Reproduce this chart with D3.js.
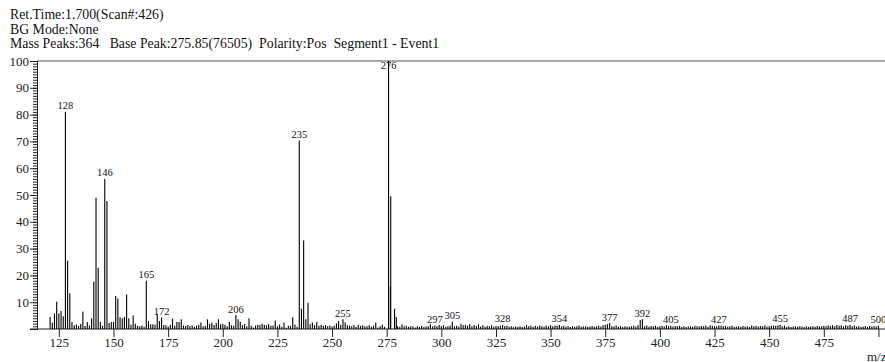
<!DOCTYPE html>
<html>
<head>
<meta charset="utf-8">
<script src="https://cdn.jsdelivr.net/npm/d3@7"></script>
<style>
  html, body { margin: 0; padding: 0; background: #fff; }
  svg { display: block; font-family: "Liberation Serif", "Times New Roman", serif; }
</style>
</head>
<body>
<div id="chart"></div>
<script>
// header text of the instrument printout
const headerLines = [
  "Ret.Time:1.700(Scan#:426)",
  "BG Mode:None",
  "Mass Peaks:364   Base Peak:275.85(76505)  Polarity:Pos  Segment1 - Event1",
];

// [m/z, relative intensity %]
const peaks = [
  [121, 4.5], [122, 2.3], [123, 5.8], [124, 10.2], [125, 5.8], [126, 6.7], [127, 4.8],
  [128, 81], [129, 25.5], [130, 13.3], [131, 2.6], [132, 1.4], [133, 1.7], [134, 1.2],
  [135, 1.9], [136, 6.5], [137, 1.1], [138, 2.6], [139, 1.3], [140, 4.0], [141, 17.6],
  [142, 49], [143, 22.9], [144, 2.6], [145, 1.2], [146, 56], [147, 47.8], [148, 2.2],
  [149, 2.6], [150, 2.6], [151, 12.3], [152, 11.4], [153, 4.4], [154, 4.0], [155, 4.6],
  [156, 12.9], [157, 4.0], [158, 1.6], [159, 5.0], [160, 2.0], [161, 1.2], [162, 1.0],
  [163, 1.3], [164, 0.8], [165, 18], [166, 3.0], [167, 1.8], [168, 1.8], [169, 1.6],
  [170, 5.6], [171, 3.0], [172, 4.3], [173, 1.5], [174, 1.4], [175, 0.9], [176, 1.6],
  [177, 3.9], [178, 1.2], [179, 2.6], [180, 2.6], [181, 3.6], [182, 1.3], [183, 1.1],
  [184, 1.5], [185, 1.0], [186, 1.3], [187, 0.8], [188, 1.2], [189, 1.6], [190, 2.4],
  [191, 1.0], [192, 1.2], [193, 3.6], [194, 2.0], [195, 2.4], [196, 1.5], [197, 2.2],
  [198, 3.6], [199, 1.8], [200, 2.0], [201, 1.6], [202, 1.0], [203, 2.6], [204, 1.4],
  [205, 1.2], [206, 5.2], [207, 3.6], [208, 2.7], [209, 1.4], [210, 1.9], [211, 1.0],
  [212, 4.0], [213, 1.2], [214, 0.6], [215, 1.3], [216, 1.6], [217, 1.5], [218, 2.0],
  [219, 1.6], [220, 1.4], [221, 1.9], [222, 1.2], [223, 1.3], [224, 3.2], [225, 1.0],
  [226, 1.7], [227, 0.8], [228, 2.4], [229, 0.5], [230, 1.2], [231, 1.2], [232, 4.4],
  [233, 1.7], [234, 0.8], [235, 70.3], [236, 7.6], [237, 33], [238, 3.6], [239, 9.8],
  [240, 1.8], [241, 2.4], [242, 1.4], [243, 2.7], [244, 1.2], [245, 1.6], [246, 1.1],
  [247, 1.5], [248, 1.0], [249, 1.3], [250, 0.9], [251, 1.2], [252, 2.1], [253, 3.0],
  [254, 1.6], [255, 3.6], [256, 2.4], [257, 1.4], [258, 1.2], [259, 1.0], [260, 1.5],
  [261, 0.8], [262, 1.6], [263, 1.2], [264, 1.4], [265, 0.9], [266, 1.0], [267, 1.4],
  [268, 0.8], [269, 1.2], [270, 2.4], [271, 0.6], [272, 1.0], [273, 1.6], [274, 0.8],
  [275.85, 100], [276.7, 16], [276.85, 49.5], [278.6, 7.6], [279.4, 4.5], [280, 1.0],
  [281, 0.8], [282, 1.8], [283, 1.0], [284, 1.2], [285, 0.8], [286, 1.0], [287, 0.9],
  [288, 0.6], [289, 1.0], [290, 0.8], [291, 1.2], [292, 0.7], [293, 0.9], [294, 1.0],
  [295, 1.8], [296, 0.9], [297, 1.3], [298, 1.0], [299, 1.6], [300, 1.1], [301, 1.4],
  [302, 0.8], [303, 1.0], [304, 1.3], [305, 2.8], [306, 1.0], [307, 1.2], [308, 0.9],
  [309, 2.0], [310, 1.4], [311, 1.6], [312, 1.2], [313, 1.8], [314, 1.0], [315, 1.5],
  [316, 1.1], [317, 1.8], [318, 0.9], [319, 1.4], [320, 0.8], [321, 1.2], [322, 1.0],
  [323, 1.4], [324, 0.8], [325, 1.1], [326, 1.0], [327, 1.2], [328, 1.5], [329, 1.0],
  [330, 1.2], [331, 0.8], [332, 1.0], [333, 0.7], [334, 0.9], [335, 0.8], [336, 1.0],
  [337, 0.7], [338, 0.9], [339, 1.5], [340, 1.0], [341, 1.3], [342, 0.8], [343, 1.2],
  [344, 0.9], [345, 1.3], [346, 1.0], [347, 0.8], [348, 1.2], [349, 1.0], [350, 1.4],
  [351, 1.0], [352, 1.3], [353, 1.2], [354, 1.5], [355, 1.0], [356, 1.2], [357, 0.8],
  [358, 1.0], [359, 0.7], [360, 1.1], [361, 0.8], [362, 1.0], [363, 1.3], [364, 0.8],
  [365, 0.9], [366, 1.0], [367, 0.8], [368, 0.9], [369, 1.1], [370, 0.8], [371, 1.0],
  [372, 1.2], [373, 0.9], [374, 1.4], [375, 1.6], [376, 1.8], [377, 2.2], [378, 1.0],
  [379, 0.9], [380, 1.3], [381, 0.8], [382, 1.1], [383, 0.7], [384, 1.0], [385, 0.8],
  [386, 0.9], [387, 1.0], [388, 1.2], [389, 0.9], [390, 1.4], [391, 3.4], [392, 3.6],
  [393, 1.0], [394, 1.3], [395, 0.8], [396, 1.1], [397, 1.0], [398, 1.2], [399, 0.8],
  [400, 1.0], [401, 1.2], [402, 0.9], [403, 1.4], [404, 1.0], [405, 1.2], [406, 0.9],
  [407, 1.1], [408, 1.0], [409, 1.2], [410, 0.8], [411, 1.0], [412, 0.7], [413, 0.9],
  [414, 1.0], [415, 0.8], [416, 1.2], [417, 1.0], [418, 0.9], [419, 1.1], [420, 1.0],
  [421, 1.2], [422, 0.8], [423, 1.4], [424, 1.2], [425, 1.0], [426, 1.0], [427, 1.3],
  [428, 1.2], [429, 1.0], [430, 1.2], [431, 0.8], [432, 1.0], [433, 1.2], [434, 0.7],
  [435, 0.9], [436, 1.0], [437, 0.8], [438, 1.1], [439, 0.9], [440, 1.0], [441, 0.8],
  [442, 1.3], [443, 1.0], [444, 1.2], [445, 0.9], [446, 1.1], [447, 1.0], [448, 1.3],
  [449, 0.9], [450, 1.0], [451, 1.2], [452, 1.3], [453, 1.2], [454, 1.4], [455, 1.6],
  [456, 1.0], [457, 1.3], [458, 0.8], [459, 1.0], [460, 0.7], [461, 0.9], [462, 1.0],
  [463, 0.8], [464, 1.0], [465, 0.9], [466, 0.7], [467, 1.0], [468, 0.8], [469, 0.9],
  [470, 1.0], [471, 0.8], [472, 1.1], [473, 0.9], [474, 1.0], [475, 1.2], [476, 1.0],
  [477, 1.3], [478, 1.1], [479, 1.4], [480, 1.0], [481, 1.5], [482, 1.2], [483, 1.4],
  [484, 1.0], [485, 1.4], [486, 1.2], [487, 1.6], [488, 1.0], [489, 1.3], [490, 0.9],
  [491, 1.0], [492, 0.7], [493, 0.9], [494, 1.1], [495, 0.8], [496, 1.2], [497, 0.9],
  [498, 1.0], [499, 0.9], [500, 1.2],
];

// peaks that carry an m/z annotation
const labeledMz = [128, 146, 165, 172, 206, 235, 255, 275.85, 297, 305, 328, 354, 377, 392, 405, 427, 455, 487, 500];

const xTicks = [125, 150, 175, 200, 225, 250, 275, 300, 325, 350, 375, 400, 425, 450, 475, 500];
const xTickLabels = ["125", "150", "175", "200", "225", "250", "275", "300", "325", "350", "375", "400", "425", "450", "475", ""];
const yTicks = [10, 20, 30, 40, 50, 60, 70, 80, 90, 100];

const width = 885;
const height = 362;

const svg = d3.select("#chart")
  .append("svg")
  .attr("width", width)
  .attr("height", height);

svg.append("g")
  .selectAll("text")
  .data(headerLines)
  .join("text")
  .attr("x", 10)
  .attr("y", (d, i) => 19 + i * 14.5)
  .attr("font-size", 13.8)
  .attr("fill", "#111")
  .style("white-space", "pre")
  .text((d) => d);

const x = d3.scaleLinear().domain([115, 503]).range([37, 885]);
const y = d3.scaleLinear().domain([0, 100]).range([329, 61]);

// frame top line
svg.append("line")
  .attr("x1", 37).attr("x2", width)
  .attr("y1", y(100)).attr("y2", y(100))
  .attr("stroke", "#555").attr("stroke-width", 1.2);

// y axis: dense ruler of minor ticks plus labelled majors
const yMinor = svg.append("g")
  .attr("transform", "translate(37,0)")
  .call(d3.axisLeft(y).tickValues(d3.range(0, 101, 1)).tickSize(4).tickFormat(""));
const yMajor = svg.append("g")
  .attr("transform", "translate(37,0)")
  .call(d3.axisLeft(y).tickValues(yTicks).tickSize(7).tickPadding(1));
[yMinor, yMajor].forEach((g) => {
  g.select(".domain").attr("stroke", "#222");
  g.selectAll(".tick line").attr("stroke", "#222");
});
yMajor.selectAll("text")
  .attr("font-family", "Liberation Serif, serif")
  .attr("font-size", 13)
  .attr("fill", "#222");

// x axis
const xAxis = svg.append("g")
  .attr("transform", `translate(0,${y(0)})`)
  .call(d3.axisBottom(x).tickValues(xTicks).tickSize(8).tickPadding(1)
    .tickFormat((d, i) => xTickLabels[i]));
xAxis.select(".domain").remove();
xAxis.selectAll(".tick line").attr("stroke", "#222");
xAxis.selectAll("text")
  .attr("font-family", "Liberation Serif, serif")
  .attr("font-size", 13)
  .attr("fill", "#222");
svg.append("line")
  .attr("x1", 30).attr("x2", width)
  .attr("y1", y(0)).attr("y2", y(0))
  .attr("stroke", "#222").attr("stroke-width", 1);

// spectrum sticks
svg.append("g")
  .selectAll("line")
  .data(peaks)
  .join("line")
  .attr("x1", (d) => x(d[0]))
  .attr("x2", (d) => x(d[0]))
  .attr("y1", y(0))
  .attr("y2", (d) => y(d[1]))
  .attr("stroke", "#000")
  .attr("stroke-width", 1.1);

// peak annotations
svg.append("g")
  .selectAll("text")
  .data(peaks.filter((p) => labeledMz.includes(p[0])))
  .join("text")
  .attr("x", (d) => x(d[0]))
  .attr("y", (d) => Math.max(y(d[1]) - 2.5, 69))
  .attr("text-anchor", "middle")
  .attr("font-size", 10.5)
  .attr("fill", "#111")
  .text((d) => Math.round(d[0]));

// axis title, cut at the right edge as in the printout
svg.append("text")
  .attr("x", 867)
  .attr("y", 361)
  .attr("font-size", 13)
  .attr("fill", "#222")
  .text("m/z");
</script>
</body>
</html>
